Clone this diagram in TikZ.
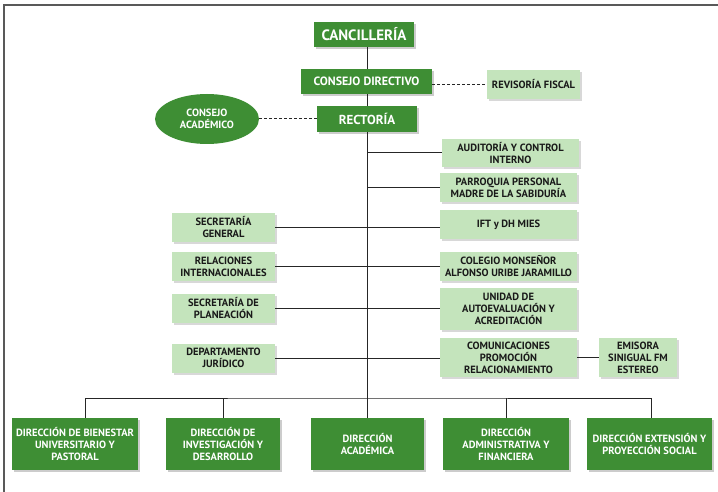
\documentclass[tikz,border=0pt]{standalone}
\usepackage{fontspec}
\setmainfont{PT Sans}
\usepackage{tikz}
\usetikzlibrary{positioning, calc, shapes.geometric, shadows}

\definecolor{darkgreen}{RGB}{62,142,52}
\definecolor{palegreen}{RGB}{196,228,188}

\tikzset{
  darkbox/.style={fill=darkgreen, text=white, align=center, inner sep=1pt,
    font=\fontsize{10.5}{12}\selectfont\bfseries,
    drop shadow={shadow xshift=2pt, shadow yshift=-2pt, fill=black!40}},
  palebox/.style={fill=palegreen, text=black!90, align=center, inner sep=1pt,
    font=\fontsize{10.5}{12}\selectfont\bfseries,
    drop shadow={shadow xshift=2pt, shadow yshift=-2pt, fill=black!30}},
  link/.style={line width=1pt, black!85},
  dashlink/.style={line width=1pt, black!85, dash pattern=on 3pt off 2pt},
}

\begin{document}
\begin{tikzpicture}[x=1pt, y=-1pt]
    \useasboundingbox (0,0) rectangle (718,492);

    % Frame
    \draw[line width=2pt, black!65] (4,492) -- (4,5) -- (718,5);

    % Top of the chart
    \node[darkbox, minimum width=100, minimum height=25,
      font=\fontsize{15}{16}\selectfont\bfseries] (canc) at (364,34.5) {CANCILLERÍA};
    \node[darkbox, minimum width=131, minimum height=25,
      font=\fontsize{12}{14}\selectfont\bfseries] (cdir) at (366.5,81.5) {CONSEJO DIRECTIVO};
    \node[darkbox, minimum width=100, minimum height=26,
      font=\fontsize{13}{14}\selectfont\bfseries] (rect) at (367,119) {RECTORÍA};
    \node[palebox, minimum width=93, minimum height=29] (revf) at (533.5,84.5) {REVISORÍA FISCAL};
    \node[ellipse, fill=darkgreen, text=white, align=center, inner sep=0pt,
      minimum width=104, minimum height=50,
      font=\fontsize{10.5}{12}\selectfont\bfseries] (cacad) at (207,119) {CONSEJO\\ACADÉMICO};

    % Staff units on the right
    \node[palebox, minimum width=137, minimum height=28] (aud) at (510.5,153) {AUDITORÍA Y CONTROL\\INTERNO};
    \node[palebox, minimum width=137, minimum height=29] (parr) at (508.5,187.5) {PARROQUIA PERSONAL\\MADRE DE LA SABIDURÍA};
    \node[palebox, minimum width=137, minimum height=29] (ift) at (508.5,224.5) {IFT y DH MIES};
    \node[palebox, minimum width=137, minimum height=29] (col) at (508.5,266.5) {COLEGIO MONSEÑOR\\ALFONSO URIBE JARAMILLO};
    \node[palebox, minimum width=137, minimum height=42] (unid) at (508.5,309) {UNIDAD DE\\AUTOEVALUACIÓN Y\\ACREDITACIÓN};
    \node[palebox, minimum width=137, minimum height=39] (com) at (508.5,357.5) {COMUNICACIONES\\PROMOCIÓN\\RELACIONAMIENTO};
    \node[palebox, minimum width=78, minimum height=39] (emis) at (638,357.5) {EMISORA\\SINIGUAL FM\\ESTEREO};

    % Staff units on the left
    \node[palebox, minimum width=103, minimum height=29] (sgen) at (223.5,227.5) {SECRETARÍA\\GENERAL};
    \node[palebox, minimum width=103, minimum height=29] (rint) at (223.5,266.5) {RELACIONES\\INTERNACIONALES};
    \node[palebox, minimum width=103, minimum height=29] (splan) at (223.5,308.5) {SECRETARÍA DE\\PLANEACIÓN};
    \node[palebox, minimum width=103, minimum height=29] (djur) at (223.5,358) {DEPARTAMENTO\\JURÍDICO};

    % Directions
    \node[darkbox, minimum width=126, minimum height=52] (bien) at (75,444) {DIRECCIÓN DE BIENESTAR\\UNIVERSITARIO Y\\PASTORAL};
    \node[darkbox, minimum width=114, minimum height=52] (inv) at (223,444) {DIRECCIÓN DE\\INVESTIGACIÓN Y\\DESARROLLO};
    \node[darkbox, minimum width=113, minimum height=52] (acad) at (367.5,444) {DIRECCIÓN\\ACADÉMICA};
    \node[darkbox, minimum width=126, minimum height=52] (adm) at (506,444) {DIRECCIÓN\\ADMINISTRATIVA Y\\FINANCIERA};
    \node[darkbox, minimum width=125, minimum height=52] (ext) at (649.5,444) {DIRECCIÓN EXTENSIÓN Y\\PROYECCIÓN SOCIAL};

    % Lines
    \draw[link] (canc.south -| acad.north) -- (cdir.north -| acad.north);
    \draw[link] (cdir.south -| acad.north) -- (rect.north -| acad.north);
    \draw[link] (rect.south -| acad.north) -- (acad.north);
    \draw[dashlink] (cdir.east |- revf.west) -- (revf.west);
    \draw[dashlink] (cacad.east) -- (rect.west);

    \draw[link] (aud.west) -- (aud.west -| acad.north);
    \draw[link] (parr.west) -- (parr.west -| acad.north);
    \draw[link] (sgen.east) -- (sgen.east -| ift.west);
    \draw[link] (rint.east) -- (col.west);
    \draw[link] (splan.east) -- (splan.east -| unid.west);
    \draw[link] (djur.east) -- (djur.east -| com.west);
    \draw[link] (com.east |- emis.west) -- (emis.west);

    \coordinate (bus) at (367,398);
    \draw[link] ([xshift=10pt]bien.north) |- (bus) -| ([xshift=1.5pt]ext.north);
    \draw[link] (inv.north) -- (inv.north |- bus);
    \draw[link] (adm.north) -- (adm.north |- bus);
  \end{tikzpicture}
\end{document}
